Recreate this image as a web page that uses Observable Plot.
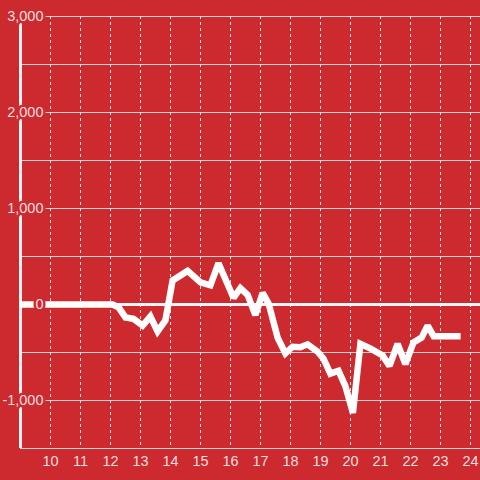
<!DOCTYPE html>
<html>
<head>
<meta charset="utf-8">
<script src="https://cdn.jsdelivr.net/npm/d3@7"></script>
<script src="https://cdn.jsdelivr.net/npm/@observablehq/plot@0.6"></script>
<style>
  html, body { margin: 0; padding: 0; background: #cc2a2f; }
  #chart { width: 480px; height: 480px; }
</style>
</head>
<body>
<div id="chart"></div>
<script>
const hours = [9, 12.07, 12.27, 12.5, 12.77, 13.07, 13.33, 13.57, 13.83, 14.07, 14.57, 15.0, 15.33, 15.6, 15.85, 16.1, 16.33, 16.57, 16.83, 17.07, 17.27, 17.57, 17.83, 18.07, 18.33, 18.57, 18.9, 19.1, 19.33, 19.6, 19.83, 20.08, 20.33, 20.67, 21.07, 21.3, 21.57, 21.83, 22.1, 22.37, 22.57, 22.77, 23.67];
const values = [0, 0, -30, -135, -150, -220, -125, -280, -165, 250, 350, 230, 200, 430, 250, 70, 170, 100, -110, 120, 10, -345, -510, -440, -445, -415, -490, -565, -720, -690, -850, -1130, -410, -460, -530, -640, -410, -620, -395, -345, -220, -330, -330];
const yGrid = [-1000, -500, 500, 1000, 1500, 2000, 2500, 3000];
const yLabels = [-1000, 0, 1000, 2000, 3000];
const xTicks = [10, 11, 12, 13, 14, 15, 16, 17, 18, 19, 20, 21, 22, 23, 24];

const data = hours.map((h, i) => ({h, v: values[i]}));
const bg = "#cc2a2f";
const fmt = d3.format(",");

const chart = Plot.plot({
  width: 480,
  height: 480,
  marginLeft: 20,
  marginRight: 0,
  marginTop: 16,
  marginBottom: 32,
  style: {background: bg, fontFamily: "Liberation Sans, Arial, sans-serif"},
  x: {domain: [9, 24.3333], axis: null},
  y: {domain: [-1500, 3000], axis: null},
  marks: [
    Plot.ruleY(yGrid, {stroke: "#d4d4d4", strokeWidth: 1}),
    Plot.ruleX(xTicks, {stroke: "#e6e6e6", strokeWidth: 1, strokeDasharray: "3,3"}),
    Plot.ruleY([-1500], {stroke: "#d4d4d4", strokeWidth: 1}),
    Plot.ruleX([9], {stroke: "#f2f2f2", strokeWidth: 3}),
    Plot.ruleY([0], {stroke: "#f6f6f6", strokeWidth: 3}),
    Plot.line(data, {x: "h", y: "v", stroke: "#ffffff", strokeWidth: 6.5, strokeLinejoin: "miter", strokeMiterlimit: 2, strokeLinecap: "butt"}),
    Plot.text(yLabels, {x: 9, y: d => d, text: d => fmt(d).replace("−", "-"), textAnchor: "end", dx: 23, fill: "rgba(255,255,255,0.86)", stroke: bg, strokeWidth: 5, fontSize: 14.5}),
    Plot.text(xTicks, {x: d => d, y: -1500, text: d => String(d), dy: 13, fill: "rgba(255,255,255,0.86)", fontSize: 14.5})
  ]
});
document.getElementById("chart").appendChild(chart);
</script>
</body>
</html>
